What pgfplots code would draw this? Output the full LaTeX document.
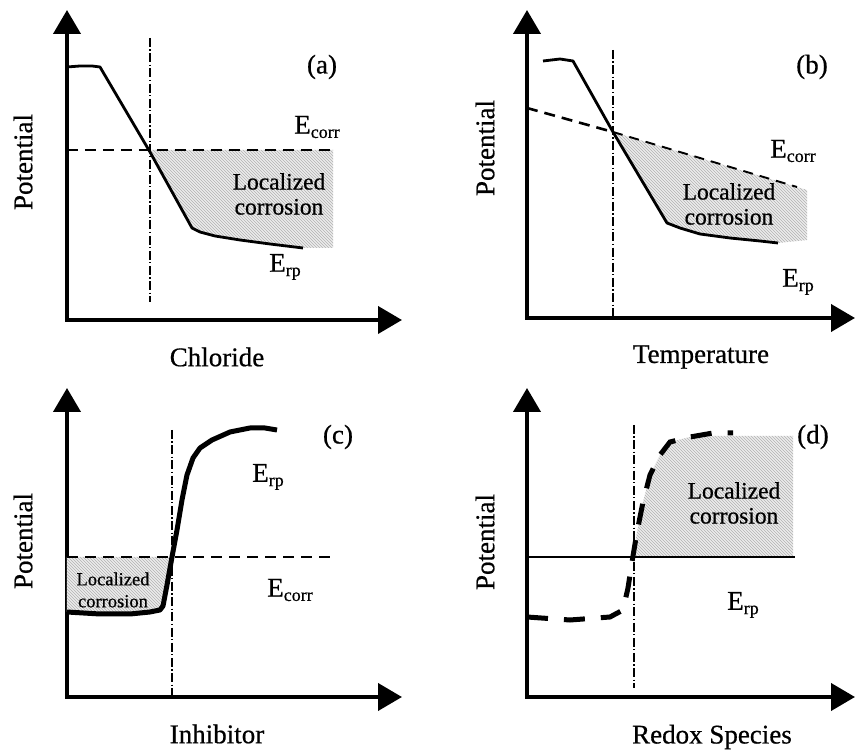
\documentclass[border=0pt]{standalone}
\usepackage{fontspec}
\setmainfont{Liberation Serif}[FakeBold=0.6]
\usepackage{pgfplots}
\pgfplotsset{compat=1.18}
\usetikzlibrary{arrows.meta,patterns}

\pgfplotsset{
  panel/.style={x=1pt, y=1pt, anchor=south west, scale only axis, clip=false,
    axis lines=left, ticks=none,
    axis line style={line width=4pt, line cap=rect, -{Triangle[width=27pt,length=24pt]}}},
  shade/.style={draw=none, fill=gray!15, postaction={pattern=north west lines, pattern color=gray!60}},
  crit/.style={black, line width=1.2pt, dash pattern=on 9pt off 2.5pt on 1.2pt off 2.5pt},
  ecorr/.style={black, line width=2.6pt, dash pattern=on 11pt off 7pt},
}
\newcommand\lab[1]{\fontsize{27}{30}\selectfont #1}
\newcommand\loc{\fontsize{23.5}{25}\selectfont}
\newcommand\sub[2]{\lab{#1\raisebox{-0.35ex}{\fontsize{18}{20}\selectfont #2}}}

\begin{document}
\begin{tikzpicture}
\useasboundingbox (0,0) rectangle (855pt,750pt);

% (a) chloride
\begin{axis}[panel, at={(67pt,430pt)}, xmin=67, xmax=402, ymin=430, ymax=740]
\addplot[shade] coordinates {(150,600)(333,600)(333,502)(303,502)(270,506)(240,510)(215,514)(200,518)(192,522)(150,598)};
\addplot[crit] coordinates {(150,712)(150,448)};
\addplot[ecorr] coordinates {(67,600)(333,600)};
\addplot[black, line width=2.8pt, line join=round] coordinates {(67,683)(80,684)(92,684)(100,683)(150,598)(192,522)(200,518)(215,514)(240,510)(270,506)(303,502)};
\node at (axis cs:322,683) {\lab{(a)}};
\node at (axis cs:317,623) {\sub{E}{corr}};
\node[align=center, font=\loc] at (axis cs:279,556) {Localized\\corrosion};
\node at (axis cs:285,483) {\sub{E}{rp}};
\node[rotate=90] at (axis cs:23,588) {\lab{Potential}};
\node at (axis cs:217,393) {\lab{Chloride}};
\end{axis}

% (b) temperature
\begin{axis}[panel, at={(527pt,432pt)}, xmin=527, xmax=855, ymin=432, ymax=740]
\addplot[shade] coordinates {(613,618)(807,560)(807,510)(778,507)(760,509)(730,512)(700,516)(680,522)(667,527)(613,618)};
\addplot[crit] coordinates {(613,700)(613,432)};
\addplot[ecorr] coordinates {(527,642)(613,618)};
\addplot[black, line width=1.9pt, dash pattern=on 10pt off 7pt] coordinates {(613,618)(797,563)};
\addplot[black, line width=2.8pt, line join=round] coordinates {(543,689)(560,691)(573,689)(613,618)(667,527)(680,522)(700,516)(730,512)(760,509)(778,507)};
\node at (axis cs:812,683) {\lab{(b)}};
\node at (axis cs:793,599) {\sub{E}{corr}};
\node[align=center, font=\loc] at (axis cs:729,546) {Localized\\corrosion};
\node at (axis cs:798,468) {\sub{E}{rp}};
\node[rotate=90] at (axis cs:485,602) {\lab{Potential}};
\node at (axis cs:701,393) {\lab{Temperature}};
\end{axis}

% (c) inhibitor
\begin{axis}[panel, at={(67pt,53pt)}, xmin=67, xmax=402, ymin=53, ymax=362]
\addplot[shade] coordinates {(67,193)(170,193)(167,165)(163,144)(160,140)(150,138)(130,136)(100,136)(67,138)};
\addplot[crit] coordinates {(172,320)(172,53)};
\addplot[ecorr] coordinates {(67,193)(333,193)};
\addplot[black, line width=5pt, line join=round] coordinates {(67,138)(100,136)(130,136)(150,138)(160,140)(163,144)(167,165)(172,193)(177,220)(182,250)(187,275)(193,292)(200,302)(212,310)(230,318)(250,322)(265,322)(277,320)};
\node at (axis cs:338,313) {\lab{(c)}};
\node at (axis cs:268,273) {\sub{E}{rp}};
\node at (axis cs:290,160) {\sub{E}{corr}};
\node[align=center, font={\fontsize{18.5}{22}\selectfont}] at (axis cs:113,160) {Localized\\corrosion};
\node[rotate=90] at (axis cs:23,209) {\lab{Potential}};
\node at (axis cs:217,16) {\lab{Inhibitor}};
\end{axis}

% (d) redox species
\begin{axis}[panel, at={(527pt,53pt)}, xmin=527, xmax=855, ymin=53, ymax=362]
\addplot[shade] coordinates {(632,193)(632,188)(637,218)(643,248)(650,275)(660,295)(670,308)(690,313)(713,314)(793,314)(793,193)};
\addplot[crit] coordinates {(634,325)(634,62)};
\addplot[black, line width=2pt] coordinates {(527,193)(795,193)};
\addplot[black, line width=5pt, dash pattern=on 21pt off 16pt] coordinates {(527,133)(570,130)(610,133)(623,140)(628,162)(632,188)(637,218)(643,248)(650,275)(660,295)(670,308)(690,313)(713,317)(733,317)};
\node at (axis cs:813,313) {\lab{(d)}};
\node[align=center, font=\loc] at (axis cs:734,247) {Localized\\corrosion};
\node at (axis cs:743,145) {\sub{E}{rp}};
\node[rotate=90] at (axis cs:485,208) {\lab{Potential}};
\node at (axis cs:712,13) {\lab{Redox Species}};
\end{axis}
\end{tikzpicture}
\end{document}
